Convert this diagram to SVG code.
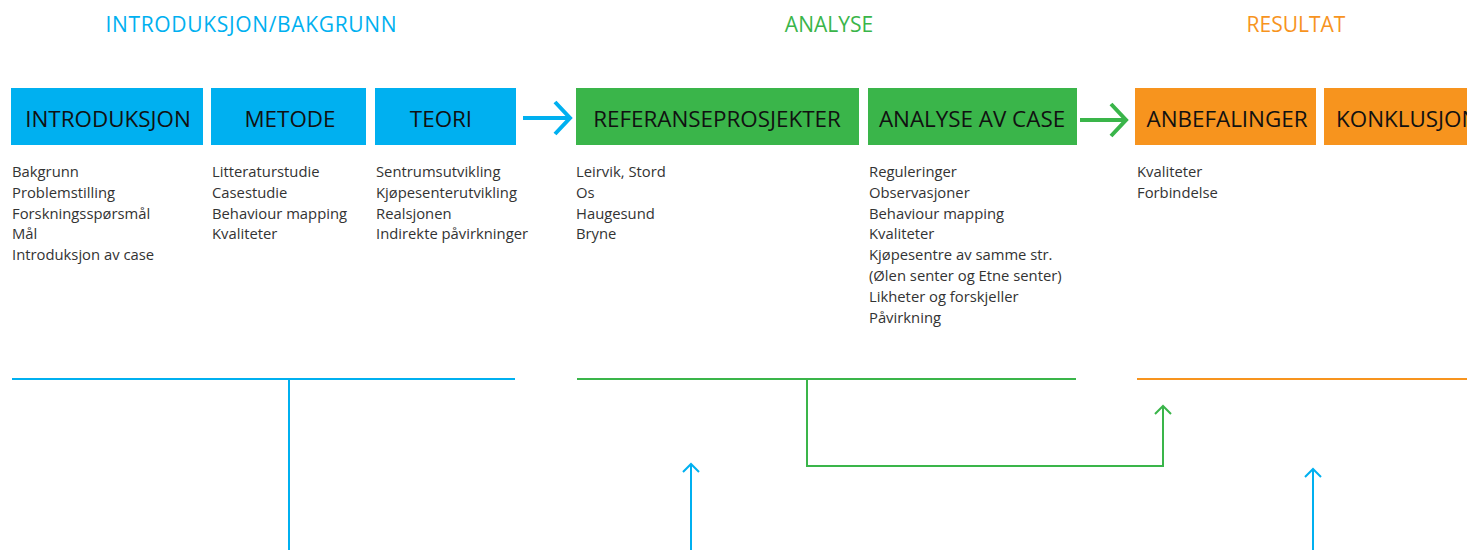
<svg xmlns="http://www.w3.org/2000/svg" width="1467" height="550" viewBox="0 0 1467 550">
<defs>
<style>
.title{font-family:"Open Sans","Noto Sans",sans-serif;font-size:21px;text-anchor:middle}
.lbl{font-family:"Open Sans","Noto Sans",sans-serif;font-size:22.4px;fill:#111;text-anchor:middle}
.item{font-family:"Open Sans","Noto Sans",sans-serif;font-size:14.8px;fill:#333}
.blue{fill:#00B0F0}.green{fill:#3AB54A}.orange{fill:#F7941E}
.ln{fill:none;stroke-width:2}
</style>
</defs>
<rect width="1467" height="550" fill="#fff"/>
<g id="titles">
<text class="title" x="251" y="32" fill="#00B0F0" textLength="291">INTRODUKSJON/BAKGRUNN</text>
<text class="title" x="829" y="32" fill="#3AB54A">ANALYSE</text>
<text class="title" x="1296" y="32" fill="#F7941E">RESULTAT</text>
</g>
<g id="introduksjon">
<rect class="blue" x="11" y="88" width="192" height="57"/>
<text class="lbl" x="108" y="127">INTRODUKSJON</text>
<text class="item" x="12" y="177">Bakgrunn</text>
<text class="item" x="12" y="198">Problemstilling</text>
<text class="item" x="12" y="219">Forskningsspørsmål</text>
<text class="item" x="12" y="239">Mål</text>
<text class="item" x="12" y="260">Introduksjon av case</text>
</g>
<g id="metode">
<rect class="blue" x="211" y="88" width="155" height="57"/>
<text class="lbl" x="290" y="127">METODE</text>
<text class="item" x="212" y="177">Litteraturstudie</text>
<text class="item" x="212" y="198">Casestudie</text>
<text class="item" x="212" y="219">Behaviour mapping</text>
<text class="item" x="212" y="239">Kvaliteter</text>
</g>
<g id="teori">
<rect class="blue" x="375" y="88" width="141" height="57"/>
<text class="lbl" x="441" y="127">TEORI</text>
<text class="item" x="376" y="177">Sentrumsutvikling</text>
<text class="item" x="376" y="198">Kjøpesenterutvikling</text>
<text class="item" x="376" y="219">Realsjonen</text>
<text class="item" x="376" y="239">Indirekte påvirkninger</text>
</g>
<g id="referanseprosjekter">
<rect class="green" x="576" y="88" width="283" height="57"/>
<text class="lbl" x="717" y="127">REFERANSEPROSJEKTER</text>
<text class="item" x="576" y="177">Leirvik, Stord</text>
<text class="item" x="576" y="198">Os</text>
<text class="item" x="576" y="219">Haugesund</text>
<text class="item" x="576" y="239">Bryne</text>
</g>
<g id="analyse-av-case">
<rect class="green" x="868" y="88" width="209" height="57"/>
<text class="lbl" x="972" y="127">ANALYSE AV CASE</text>
<text class="item" x="869" y="177">Reguleringer</text>
<text class="item" x="869" y="198">Observasjoner</text>
<text class="item" x="869" y="219">Behaviour mapping</text>
<text class="item" x="869" y="239">Kvaliteter</text>
<text class="item" x="869" y="260">Kjøpesentre av samme str.</text>
<text class="item" x="869" y="281">(Ølen senter og Etne senter)</text>
<text class="item" x="869" y="302">Likheter og forskjeller</text>
<text class="item" x="869" y="323">Påvirkning</text>
</g>
<g id="anbefalinger">
<rect class="orange" x="1135" y="88" width="181" height="57"/>
<text class="lbl" x="1227" y="127">ANBEFALINGER</text>
<text class="item" x="1137" y="177">Kvaliteter</text>
<text class="item" x="1137" y="198">Forbindelse</text>
</g>
<g id="konklusjon">
<rect class="orange" x="1324" y="88" width="160" height="57"/>
<text class="lbl" x="1336" y="127" style="text-anchor:start">KONKLUSJON</text>
</g>
<g id="connectors">
<path d="M523 118H568M555 102L570 118L555 134" fill="none" stroke="#00B0F0" stroke-width="4"/>
<path d="M1080 120H1125M1111 104L1126 120L1111 136" fill="none" stroke="#3AB54A" stroke-width="4"/>
<path class="ln" stroke="#00B0F0" d="M12 379H515M289 379V550"/>
<path class="ln" stroke="#3AB54A" d="M577 379H1076M807 379V466H1163V406"/>
<path class="ln" stroke="#3AB54A" d="M1155 414L1163 406L1171 414"/>
<path class="ln" stroke="#F7941E" d="M1137 379H1467"/>
<path class="ln" stroke="#00B0F0" d="M691 550V464M683 472L691 464L699 472"/>
<path class="ln" stroke="#00B0F0" d="M1313 550V469M1305 477L1313 469L1321 477"/>
</g>
</svg>
